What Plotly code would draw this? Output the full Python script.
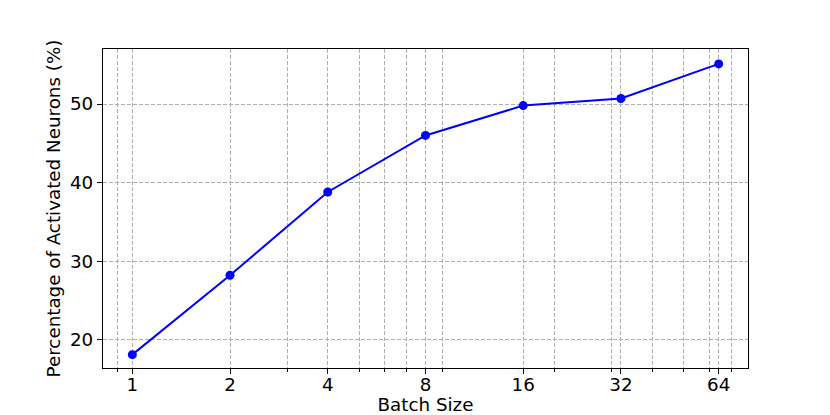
import math

import plotly.graph_objects as go

# data
batch_sizes = [1, 2, 4, 8, 16, 32, 64]
activated_pct = [18.1, 28.2, 38.8, 46.0, 49.8, 50.7, 55.1]
x_minor_ticks = [0.9, 3, 5, 6, 7, 9, 20, 30, 40, 50, 60, 70]
y_ticks = [20, 30, 40, 50]

GRID = "#b0b0b0"
FONT = "DejaVu Sans"
FS = 18.3

# page body adds an 8px margin, so the figure is 8px smaller than the window
fig = go.Figure(
    go.Scatter(
        x=batch_sizes,
        y=activated_pct,
        mode="lines+markers",
        line=dict(color="#0000ff", width=2),
        marker=dict(color="#0000ff", size=9),
    )
)

fig.update_layout(
    width=822,
    height=407,
    margin=dict(l=95, r=82, t=41, b=47, autoexpand=False),
    paper_bgcolor="white",
    plot_bgcolor="white",
    showlegend=False,
    font=dict(family=FONT, size=FS, color="black"),
)

fig.update_xaxes(
    type="log",
    automargin=False,
    range=[math.log10(2 ** -0.3), math.log10(2 ** 6.3)],
    tickvals=batch_sizes,
    ticktext=[str(b) for b in batch_sizes],
    ticks="outside",
    ticklen=5,
    ticklabelstandoff=-5,
    tickcolor="black",
    showline=True,
    linecolor="black",
    linewidth=1.2,
    mirror=True,
    showgrid=True,
    gridcolor=GRID,
    gridwidth=1,
    griddash="4px,2px",
    zeroline=False,
    minor=dict(
        tickvals=x_minor_ticks,
        ticks="outside",
        ticklen=3,
        tickcolor="black",
        showgrid=True,
        gridcolor=GRID,
        gridwidth=1,
        griddash="4px,2px",
    ),
    title=dict(text="Batch Size", standoff=4, font=dict(size=FS)),
)

fig.update_yaxes(
    automargin=False,
    range=[16.4, 57.0],
    tickvals=y_ticks,
    ticks="outside",
    ticklen=5,
    tickcolor="black",
    showline=True,
    linecolor="black",
    linewidth=1.2,
    mirror=True,
    showgrid=True,
    gridcolor=GRID,
    gridwidth=1,
    griddash="4px,2px",
    zeroline=False,
    title=dict(text="Percentage of Activated Neurons (%)", standoff=4, font=dict(size=FS)),
)

fig.write_html("out.html")
